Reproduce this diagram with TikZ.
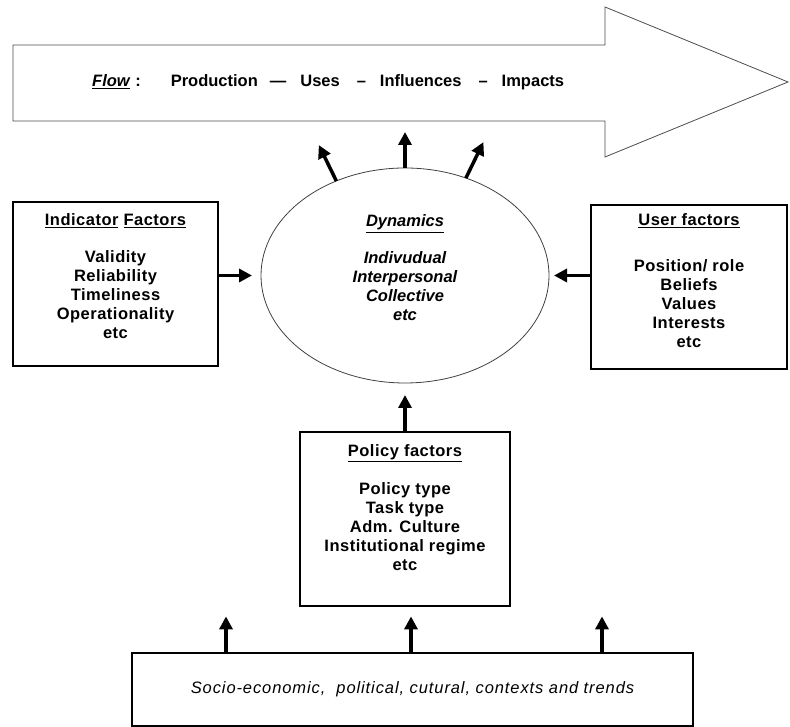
\documentclass[tikz,border=0pt]{standalone}
\usepackage{fontspec}
\setmainfont{Liberation Sans}
\usetikzlibrary{arrows.meta,positioning,shapes.geometric}
\begin{document}
\begin{tikzpicture}[x=1pt,y=1pt,
    font=\fontsize{16.5}{19}\selectfont\bfseries,
    factorbox/.style={draw,line width=1.2pt,inner sep=0pt},
    boxtext/.style={align=center,inner sep=0pt,
      font=\fontsize{16.5}{19}\selectfont\bfseries\addfontfeatures{LetterSpace=3}},
    push/.style={-{Triangle[width=13pt,length=13pt]},line width=3.5pt}]
  \useasboundingbox (0,0) rectangle (790,727);
  \draw[line width=0.8pt,black!70]
    (13,682) -- (605,682) -- (605,720) -- (788,645)
    -- (605,570) -- (605,606) -- (13,606) -- cycle;
  \node[align=center,inner sep=0pt,anchor=west] (flow) at (92,645)
    {\textit{\underline{Flow}}\,\,:\hspace{30pt}Production\hspace{12pt}---\hspace{14pt}Uses\hspace{17pt}--\hspace{14pt}Influences\hspace{17pt}--\hspace{14pt}Impacts};
  \node[draw=black!75,line width=0.8pt,ellipse,minimum width=288pt,
    minimum height=215pt,inner sep=0pt,outer sep=0pt] (dyn) at (405,451.5) {};
  \node[boxtext,font=\fontsize{16.5}{19}\selectfont\bfseries\itshape]
    (dyntext) at ([yshift=7.5pt]dyn.center)
    {\underline{Dynamics}\\[18pt] Indivudual\\ Interpersonal\\ Collective\\ etc};
  \node[factorbox,minimum width=205pt,minimum height=164pt] (ind) at (115.5,443) {};
  \node[boxtext,below=12pt of ind.north] (indtext)
    {\underline{Indicator} \underline{Factors}\\[18pt] Validity\\ Reliability\\ Timeliness\\ Operationality\\ etc};
  \node[factorbox,minimum width=196pt,minimum height=164pt] (user) at (689,440) {};
  \node[boxtext,below=9pt of user.north] (usertext)
    {\underline{User factors}\\[27pt] Position/ role\\ Beliefs\\ Values\\ Interests\\ etc};
  \node[factorbox,minimum width=210pt,minimum height=174pt] (pol) at (405,208) {};
  \node[boxtext,below=13pt of pol.north] (poltext)
    {\underline{Policy factors}\\[19pt] Policy type\\ Task type\\ Adm. Culture\\ Institutional regime\\ etc};
  \node[factorbox,minimum width=561pt,minimum height=73pt,
    font=\fontsize{16.5}{19}\selectfont\itshape\addfontfeatures{LetterSpace=5.5}] (ctx) at (412.5,37.5)
    {Socio-economic,\ \ political, cutural, contexts and trends};
  \draw[push] (dyn.north) -- ++(0,36);
  \draw[push] (dyn.126) -- ++(116:40);
  \draw[push] (dyn.58) -- ++(64:40);
  \draw[push,shorten >=9pt] (ind.east |- dyn.west) -- (dyn.west);
  \draw[push,shorten >=5pt] (user.west |- dyn.east) -- (dyn.east);
  \draw[push,shorten >=12pt] (pol.north) -- (dyn.south);
  \foreach \dx in {-186.5,-1.5,189.5}
    \draw[push] (ctx.north) ++(\dx,0) -- ++(0,36);
\end{tikzpicture}
\end{document}
